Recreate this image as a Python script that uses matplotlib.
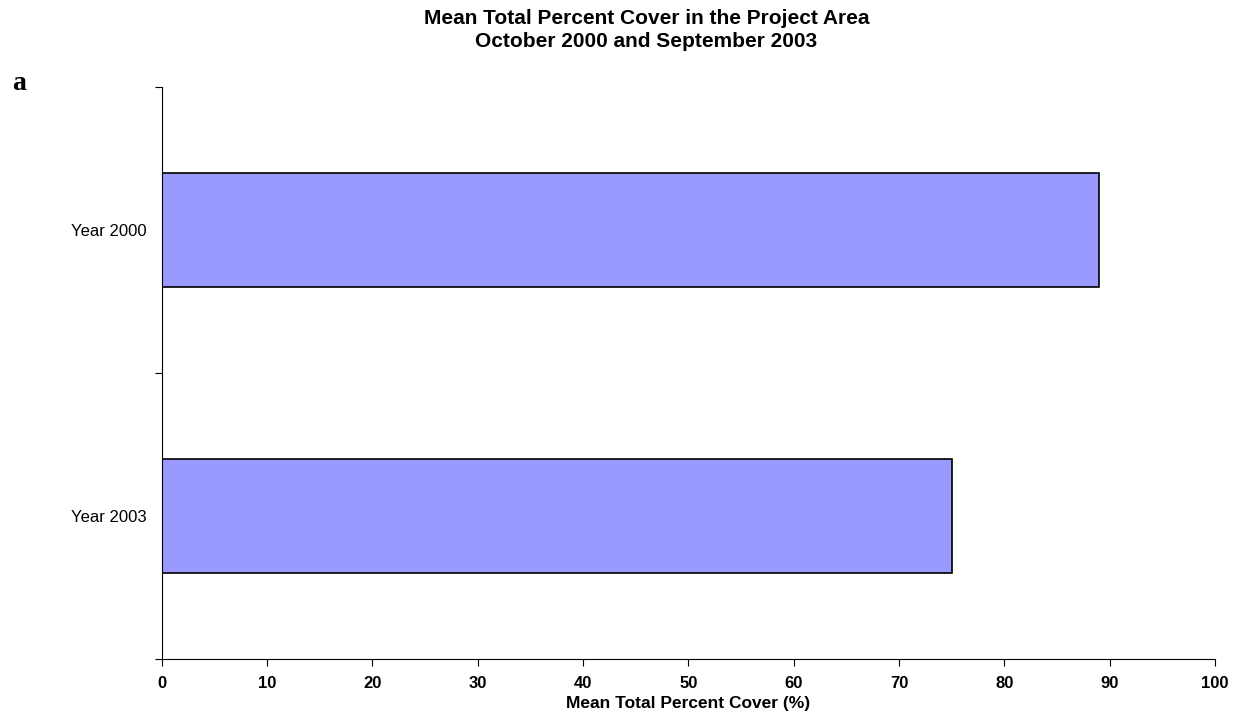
import matplotlib
matplotlib.use('Agg')
import matplotlib.pyplot as plt
import numpy as np

plt.rcParams['font.family'] = ['Liberation Sans', 'DejaVu Sans']

categories = ['Year 2000', 'Year 2003']
cover = [89, 75]
xticks = list(range(0, 101, 10))

fig = plt.figure(figsize=(12.36, 7.24), dpi=100)
ax = fig.add_axes([0.1308, 0.0898, 0.8522, 0.7902])

pos = np.arange(len(categories)) + 0.5
ax.barh(pos, cover, height=0.4, color='#9999FF', edgecolor='black', linewidth=1.2)

ax.set_xlim(0, 100)
ax.set_ylim(2, 0)
ax.set_xticks(xticks)
ax.set_xticklabels([str(t) for t in xticks], fontsize=12, fontweight='bold')
ax.set_yticks([0, 1, 2])
ax.set_yticklabels([])
ax.set_yticks(pos, minor=True)
ax.set_yticklabels(categories, minor=True, fontsize=12)
ax.tick_params(axis='y', which='minor', length=0, pad=11)
ax.tick_params(axis='both', which='major', direction='out', length=5, width=0.8)
ax.tick_params(axis='x', pad=7)

for s in ['top', 'right']:
    ax.spines[s].set_visible(False)
for s in ['left', 'bottom']:
    ax.spines[s].set_linewidth(0.8)

ax.set_xlabel('Mean Total Percent Cover (%)', fontsize=12.5, fontweight='bold', labelpad=4)

fig.text(0.523, 1 - 24 / 724, 'Mean Total Percent Cover in the Project Area',
         ha='center', va='baseline', fontsize=15, fontweight='bold')
fig.text(0.523, 1 - 47 / 724, 'October 2000 and September 2003',
         ha='center', va='baseline', fontsize=15, fontweight='bold')
fig.text(0.01, 1 - 90 / 724, 'a', fontsize=20, fontweight='bold', family='Liberation Serif', va='baseline')

plt.savefig('out.png', dpi=100)
